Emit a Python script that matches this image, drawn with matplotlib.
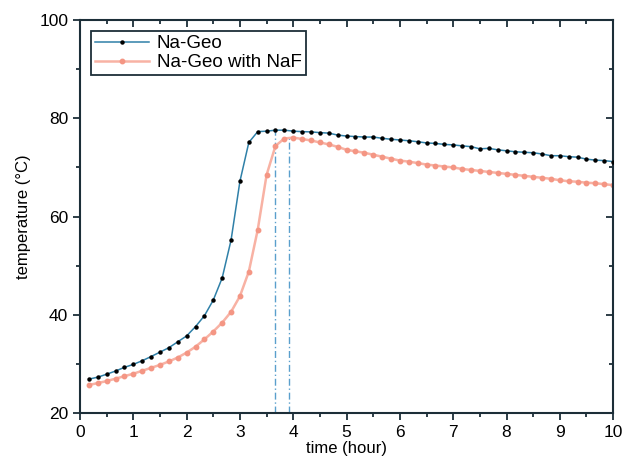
import matplotlib.pyplot as plt
from matplotlib.ticker import MultipleLocator
import numpy as np

plt.rcParams['font.family'] = ['Liberation Sans', 'DejaVu Sans']

# readings every 10 min
time_h = np.arange(1, 61) / 6.0

na_geo = [26.9, 27.3, 27.9, 28.55, 29.3, 29.9, 30.65, 31.5, 32.4, 33.3,
          34.5, 35.7, 37.6, 39.8, 43.0, 47.5, 55.2, 67.2, 75.1, 77.3,
          77.4, 77.6, 77.6, 77.4, 77.3, 77.25, 77.1, 77.0, 76.6, 76.4,
          76.3, 76.2, 76.2, 75.95, 75.75, 75.6, 75.45, 75.25, 75.0, 74.9,
          74.7, 74.6, 74.4, 74.25, 73.8, 73.9, 73.6, 73.4, 73.2, 73.1,
          73.0, 72.75, 72.4, 72.4, 72.2, 72.1, 71.7, 71.5, 71.4, 71.2]

na_geo_naf = [25.7, 26.1, 26.5, 27.0, 27.5, 28.0, 28.6, 29.2, 29.8, 30.5,
              31.3, 32.3, 33.5, 35.0, 36.6, 38.4, 40.6, 43.8, 48.8, 57.3,
              68.5, 74.4, 75.9, 76.1, 75.8, 75.5, 75.1, 74.7, 74.2, 73.6,
              73.3, 73.0, 72.6, 72.2, 71.8, 71.4, 71.2, 70.9, 70.6, 70.4,
              70.2, 70.0, 69.7, 69.5, 69.3, 69.1, 68.9, 68.7, 68.5, 68.3,
              68.1, 67.9, 67.7, 67.4, 67.2, 67.1, 66.9, 66.8, 66.6, 66.4]

peak_t = [3.667, 3.92]
peak_T = [77.6, 76.1]

axis_color = "#1c2e38"
fontsize = 12

fig = plt.figure(figsize=(6.25, 4.66), dpi=100)
ax = fig.add_axes([0.128, 0.1137, 0.853, 0.843])

ax.plot(time_h, na_geo_naf, color="#f8b2a4", lw=1.8, marker="o", ms=3.2,
        mfc="#f49684", mec="#f49684", label="Na-Geo with NaF", zorder=2)
ax.plot(time_h, na_geo, color="#2f80a8", lw=1.1, marker="o", ms=2.2,
        mfc="black", mec="black", label="Na-Geo", zorder=3)
ax.vlines(peak_t, 20, peak_T, colors="#5a9fcc", lw=1, linestyles=(0, (5, 2, 1, 2)), zorder=1)

ax.set_xlim(0, 10)
ax.set_ylim(20, 100)
ax.xaxis.set_major_locator(MultipleLocator(1))
ax.xaxis.set_minor_locator(MultipleLocator(0.5))
ax.yaxis.set_major_locator(MultipleLocator(20))
ax.yaxis.set_minor_locator(MultipleLocator(10))

for s in ax.spines.values():
    s.set_color(axis_color)
    s.set_linewidth(1.5)
ax.tick_params(which="both", direction="out", color=axis_color, width=1.3,
               labelsize=12.5, top=False, right=False)
ax.tick_params(which="major", length=5)
ax.tick_params(which="minor", length=3)

# inward ticks on top and right, no labels
sec_x = ax.secondary_xaxis("top")
sec_x.xaxis.set_major_locator(MultipleLocator(1))
sec_x.xaxis.set_minor_locator(MultipleLocator(0.5))
sec_x.tick_params(which="both", direction="in", color=axis_color, width=1.3, labeltop=False)
sec_x.tick_params(which="major", length=5)
sec_x.tick_params(which="minor", length=3)
sec_x.spines["top"].set_visible(False)
sec_y = ax.secondary_yaxis("right")
sec_y.yaxis.set_major_locator(MultipleLocator(20))
sec_y.yaxis.set_minor_locator(MultipleLocator(10))
sec_y.tick_params(which="both", direction="in", color=axis_color, width=1.3, labelright=False)
sec_y.tick_params(which="major", length=5)
sec_y.tick_params(which="minor", length=3)
sec_y.spines["right"].set_visible(False)

ax.set_xlabel("time (hour)", fontsize=fontsize, labelpad=1)
ax.set_ylabel("temperature (\u00b0C)", fontsize=fontsize, labelpad=6)

handles, labels = ax.get_legend_handles_labels()
leg = ax.legend(handles[::-1], labels[::-1], loc="upper left", fontsize=13.5,
                fancybox=False, framealpha=1, edgecolor=axis_color,
                borderaxespad=0.6, handlelength=2.9, markerscale=1,
                labelspacing=0.1, borderpad=0.2, handletextpad=0.4)
leg.get_frame().set_linewidth(1.3)

fig.savefig("out.png", dpi=100)
